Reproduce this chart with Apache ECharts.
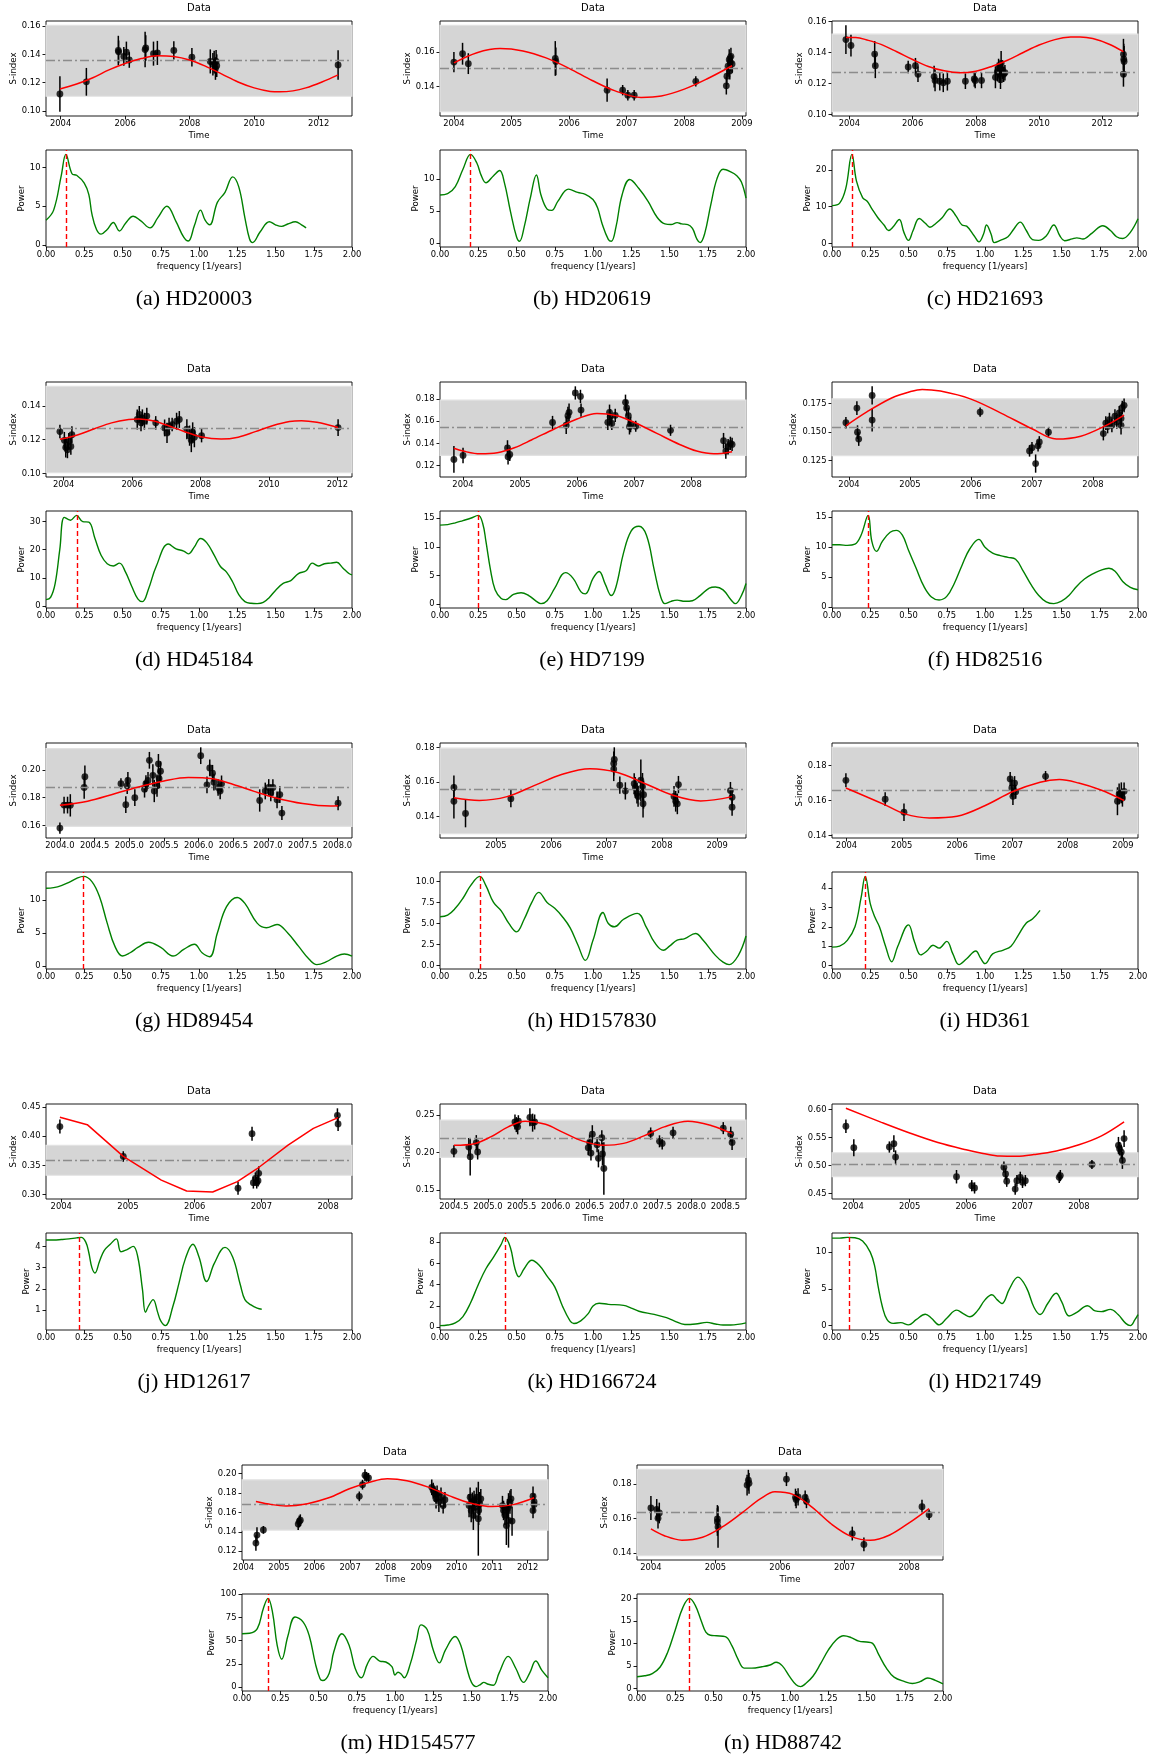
<!DOCTYPE html>
<html>
<head>
<meta charset="utf-8">
<script src="https://cdn.jsdelivr.net/npm/echarts@6/dist/echarts.min.js"></script>
<style>
  html, body { margin: 0; padding: 0; background: #fff; }
  #chart { width: 1157px; height: 1762px; }
</style>
</head>
<body>
<div id="chart"></div>
<script>
// ---------------------------------------------------------------------------
// Per-star data: observations [time, S-index, error], sinusoidal fit samples
// [time, S-index], activity band [low, high], mean level, periodogram
// [frequency, power], peak frequency and tick values for each axis.
// ---------------------------------------------------------------------------

// (a) HD20003
const a_obs = [[2003.98,0.1120,0.0125],[2004.80,0.1206,0.0098],[2005.79,0.1427,0.0104],[2005.80,0.1418,0.008],[2005.96,0.1385,0.0066],[2006.04,0.1415,0.0075],[2006.13,0.1360,0.0055],[2006.62,0.1434,0.0125],[2006.64,0.1445,0.009],[2006.88,0.1405,0.0085],[2007.00,0.1410,0.0085],[2007.51,0.1428,0.0065],[2008.07,0.1380,0.0065],[2008.64,0.1350,0.0085],[2008.72,0.1330,0.008],[2008.76,0.1345,0.008],[2008.80,0.1300,0.008],[2008.84,0.1320,0.008],[2008.82,0.1350,0.008],[2012.60,0.1325,0.0104]];
const a_fit = [[2003.98,0.1155],[2004.5,0.1190],[2005.0,0.1235],[2005.5,0.1290],[2006.0,0.1335],[2006.5,0.1370],[2007.0,0.1390],[2007.5,0.1385],[2008.0,0.1360],[2008.5,0.1315],[2009.0,0.1260],[2009.5,0.1205],[2010.0,0.1163],[2010.5,0.1138],[2010.8,0.1135],[2011.2,0.1142],[2011.6,0.1163],[2012.1,0.1205],[2012.6,0.1255]];
const a_band = [0.1104, 0.1605];
const a_mean = 0.1360;
const a_power = [[0,3.2],[0.05,4.5],[0.1,9.0],[0.13,11.7],[0.17,9.2],[0.2,9.0],[0.25,8.0],[0.28,6.5],[0.3,4.0],[0.33,2.0],[0.36,1.4],[0.4,2.0],[0.44,2.9],[0.48,1.8],[0.52,2.8],[0.57,3.7],[0.62,3.1],[0.68,2.2],[0.73,3.5],[0.79,5.0],[0.85,3.0],[0.9,1.0],[0.93,0.5],[0.97,2.5],[1.01,4.5],[1.04,3.2],[1.07,2.6],[1.12,5.5],[1.17,6.8],[1.22,8.8],[1.26,7.5],[1.3,3.5],[1.33,0.8],[1.35,0.3],[1.4,1.7],[1.46,3.0],[1.5,2.6],[1.54,2.4],[1.58,2.7],[1.63,3.0],[1.67,2.6],[1.7,2.2]];
const a_peak = 0.13;
const a_timeTicks = [2004, 2006, 2008, 2010, 2012];
const a_sTicks = [0.10, 0.12, 0.14, 0.16];
const a_powerTicks = [0, 5, 10];

// (b) HD20619
const b_obs = [[2004.00,0.1541,0.0058],[2004.15,0.1589,0.0063],[2004.25,0.1532,0.006],[2005.76,0.1562,0.010],[2005.77,0.1545,0.008],[2006.66,0.1379,0.0067],[2006.93,0.1379,0.003],[2007.02,0.1350,0.003],[2007.13,0.1350,0.003],[2008.20,0.1430,0.003],[2008.73,0.1404,0.005],[2008.74,0.1460,0.005],[2008.76,0.1517,0.006],[2008.78,0.1555,0.006],[2008.80,0.1540,0.005],[2008.81,0.1574,0.005],[2008.83,0.1530,0.005],[2008.79,0.1490,0.005]];
const b_fit = [[2004.0,0.1536],[2004.4,0.1595],[2004.8,0.1619],[2005.2,0.1605],[2005.6,0.1565],[2006.0,0.1505],[2006.4,0.1435],[2006.8,0.1375],[2007.25,0.1337],[2007.6,0.1345],[2008.0,0.1385],[2008.4,0.1445],[2008.83,0.1520]];
const b_band = [0.1255, 0.1753];
const b_mean = 0.1506;
const b_power = [[0,7.5],[0.05,7.7],[0.1,8.8],[0.15,11.5],[0.2,13.8],[0.24,12.5],[0.27,10.5],[0.3,9.4],[0.35,10.5],[0.39,11.3],[0.42,9.5],[0.46,5.0],[0.5,1.0],[0.52,0.3],[0.55,2.5],[0.59,7.0],[0.63,10.6],[0.66,7.5],[0.7,5.3],[0.73,5.1],[0.77,6.5],[0.84,8.4],[0.9,7.9],[0.95,7.6],[1.0,6.8],[1.03,5.5],[1.06,3.0],[1.1,0.6],[1.12,0.3],[1.15,2.5],[1.19,7.5],[1.24,9.9],[1.3,8.5],[1.36,6.5],[1.42,4.0],[1.47,3.0],[1.51,2.9],[1.55,3.2],[1.58,3.0],[1.62,2.9],[1.65,2.3],[1.68,0.6],[1.7,0.1],[1.73,1.5],[1.77,6.0],[1.81,10.0],[1.85,11.5],[1.9,11.1],[1.94,10.5],[1.97,9.5],[2.0,7.0]];
const b_peak = 0.20;
const b_timeTicks = [2004, 2005, 2006, 2007, 2008, 2009];
const b_sTicks = [0.14, 0.16];
const b_powerTicks = [0, 5, 10];

// (c) HD21693
const c_obs = [[2003.89,0.1483,0.0092],[2004.05,0.1445,0.007],[2004.80,0.1390,0.0084],[2004.82,0.1315,0.008],[2005.86,0.1307,0.004],[2006.09,0.1315,0.005],[2006.17,0.1260,0.005],[2006.68,0.1245,0.007],[2006.71,0.1220,0.007],[2006.86,0.1215,0.006],[2006.97,0.1205,0.006],[2007.10,0.1215,0.006],[2007.67,0.1215,0.005],[2007.95,0.1230,0.005],[2007.98,0.1220,0.005],[2008.18,0.1220,0.005],[2008.62,0.1240,0.007],[2008.68,0.1275,0.006],[2008.72,0.1300,0.006],[2008.76,0.1265,0.006],[2008.80,0.1330,0.008],[2008.84,0.1290,0.006],[2008.88,0.1260,0.005],[2008.92,0.1270,0.005],[2008.78,0.1225,0.006],[2012.67,0.1388,0.010],[2012.68,0.1357,0.010],[2012.69,0.1342,0.010],[2012.67,0.1260,0.008]];
const c_fit = [[2003.89,0.1497],[2004.2,0.1497],[2004.6,0.1478],[2005.0,0.1452],[2005.5,0.1405],[2006.0,0.1355],[2006.5,0.1310],[2007.0,0.1282],[2007.5,0.1270],[2008.0,0.1280],[2008.5,0.1310],[2009.0,0.1350],[2009.5,0.1400],[2010.0,0.1448],[2010.5,0.1483],[2011.0,0.1499],[2011.3,0.1500],[2011.7,0.1490],[2012.2,0.1455],[2012.67,0.1405]];
const c_band = [0.1019, 0.1518];
const c_mean = 0.1275;
const c_power = [[0,10.3],[0.05,11.0],[0.09,15.0],[0.13,24.3],[0.16,17.0],[0.2,12.5],[0.23,11.5],[0.26,9.5],[0.3,7.0],[0.34,5.0],[0.37,3.5],[0.4,4.5],[0.44,6.5],[0.47,3.0],[0.5,0.8],[0.53,3.5],[0.57,6.8],[0.61,5.5],[0.64,4.4],[0.68,5.5],[0.72,7.0],[0.77,9.4],[0.81,7.5],[0.85,5.0],[0.88,4.7],[0.93,2.0],[0.96,0.4],[0.99,2.5],[1.01,5.0],[1.04,2.5],[1.06,0.2],[1.1,0.8],[1.15,1.8],[1.19,4.0],[1.23,5.8],[1.27,3.5],[1.31,1.0],[1.35,0.8],[1.4,2.0],[1.45,5.0],[1.49,2.0],[1.52,0.7],[1.57,1.2],[1.6,1.5],[1.64,1.2],[1.7,2.8],[1.77,4.8],[1.82,3.5],[1.86,1.8],[1.9,1.3],[1.95,3.0],[2.0,6.7]];
const c_peak = 0.135;
const c_timeTicks = [2004, 2006, 2008, 2010, 2012];
const c_sTicks = [0.10, 0.12, 0.14, 0.16];
const c_powerTicks = [0, 10, 20];

// (d) HD45184
const d_obs = [[2003.89,0.1248,0.004],[2004.02,0.1196,0.005],[2004.06,0.1154,0.006],[2004.15,0.1190,0.005],[2004.21,0.1160,0.005],[2004.11,0.1140,0.005],[2004.24,0.1230,0.005],[2006.15,0.1320,0.006],[2006.21,0.1350,0.005],[2006.30,0.1330,0.005],[2006.36,0.1310,0.005],[2006.43,0.1340,0.005],[2006.26,0.1300,0.005],[2006.69,0.1300,0.004],[2006.95,0.1270,0.005],[2007.02,0.1240,0.006],[2007.08,0.1280,0.005],[2007.17,0.1290,0.004],[2007.30,0.1310,0.005],[2007.38,0.1320,0.005],[2007.60,0.1262,0.006],[2007.68,0.1224,0.006],[2007.73,0.1196,0.007],[2007.77,0.1243,0.006],[2007.82,0.1215,0.006],[2008.03,0.1224,0.004],[2012.02,0.1272,0.005]];
const d_fit = [[2003.89,0.1202],[2004.4,0.1228],[2004.9,0.1265],[2005.4,0.1300],[2005.9,0.1320],[2006.2,0.1323],[2006.6,0.1312],[2007.0,0.1287],[2007.5,0.1250],[2008.0,0.1218],[2008.6,0.1204],[2009.1,0.1215],[2009.6,0.1248],[2010.1,0.1283],[2010.6,0.1308],[2010.95,0.1313],[2011.4,0.1303],[2012.02,0.1272]];
const d_band = [0.1004, 0.1517];
const d_mean = 0.1266;
const d_power = [[0,2.2],[0.03,3.0],[0.06,8.0],[0.09,20.0],[0.12,31.5],[0.16,30.5],[0.2,32.2],[0.24,30.0],[0.28,29.8],[0.32,24.0],[0.36,18.0],[0.4,15.0],[0.44,14.2],[0.48,15.2],[0.52,12.0],[0.56,7.0],[0.6,2.5],[0.63,1.5],[0.67,6.0],[0.72,14.0],[0.8,22.0],[0.85,20.3],[0.9,19.5],[0.93,18.5],[0.97,21.0],[1.01,24.0],[1.05,22.5],[1.1,18.0],[1.14,14.0],[1.18,12.0],[1.22,8.5],[1.26,4.0],[1.3,1.5],[1.34,0.9],[1.38,0.8],[1.42,1.2],[1.46,3.0],[1.5,5.5],[1.55,8.0],[1.6,9.0],[1.65,11.5],[1.7,12.5],[1.74,15.2],[1.78,14.2],[1.82,15.0],[1.86,15.2],[1.9,15.5],[1.94,13.5],[1.98,11.5],[2.0,11.0]];
const d_peak = 0.207;
const d_timeTicks = [2004, 2006, 2008, 2010, 2012];
const d_sTicks = [0.10, 0.12, 0.14];
const d_powerTicks = [0, 10, 20, 30];

// (e) HD7199
const e_obs = [[2003.84,0.1255,0.012],[2004.00,0.1291,0.007],[2004.78,0.1358,0.007],[2004.79,0.1280,0.007],[2004.82,0.1300,0.006],[2005.57,0.1588,0.006],[2005.81,0.1564,0.008],[2005.84,0.1650,0.008],[2005.86,0.1680,0.008],[2005.97,0.1855,0.006],[2006.06,0.1824,0.006],[2006.07,0.1700,0.006],[2006.54,0.1590,0.007],[2006.57,0.1680,0.007],[2006.58,0.1640,0.007],[2006.61,0.1580,0.006],[2006.67,0.1653,0.006],[2006.85,0.1770,0.007],[2006.87,0.1720,0.007],[2006.90,0.1650,0.007],[2006.92,0.1550,0.007],[2006.94,0.1570,0.007],[2007.03,0.1555,0.005],[2007.64,0.1518,0.005],[2008.57,0.1424,0.007],[2008.61,0.1330,0.007],[2008.65,0.1370,0.007],[2008.69,0.1400,0.006],[2008.72,0.1390,0.006]];
const e_fit = [[2003.84,0.1355],[2004.0,0.1330],[2004.3,0.1305],[2004.6,0.1315],[2004.9,0.1360],[2005.2,0.1430],[2005.6,0.1530],[2006.0,0.1620],[2006.35,0.1670],[2006.7,0.1650],[2007.0,0.1590],[2007.4,0.1490],[2007.8,0.1390],[2008.1,0.1330],[2008.4,0.1305],[2008.72,0.1325]];
const e_band = [0.1291, 0.1791];
const e_mean = 0.1545;
const e_power = [[0,13.8],[0.05,13.9],[0.1,14.2],[0.15,14.6],[0.2,15.0],[0.25,15.5],[0.28,14.0],[0.3,11.0],[0.33,6.0],[0.36,2.5],[0.4,1.0],[0.43,0.8],[0.48,1.7],[0.53,2.0],[0.58,1.5],[0.63,0.5],[0.66,0.1],[0.7,0.6],[0.75,2.8],[0.82,5.5],[0.87,4.5],[0.92,2.2],[0.95,1.8],[1.0,4.5],[1.04,5.7],[1.08,3.5],[1.12,1.5],[1.15,3.0],[1.2,9.0],[1.25,12.8],[1.3,13.6],[1.35,12.0],[1.4,6.0],[1.44,1.5],[1.47,0.1],[1.51,0.5],[1.55,0.7],[1.6,0.5],[1.65,0.6],[1.7,1.5],[1.76,2.8],[1.8,3.0],[1.85,2.5],[1.9,0.8],[1.93,0.1],[1.97,1.5],[2.0,3.6]];
const e_peak = 0.25;
const e_timeTicks = [2004, 2005, 2006, 2007, 2008];
const e_sTicks = [0.12, 0.14, 0.16, 0.18];
const e_powerTicks = [0, 5, 10, 15];

// (f) HD82516
const f_obs = [[2003.95,0.1583,0.005],[2004.13,0.1711,0.006],[2004.14,0.1500,0.006],[2004.16,0.1440,0.006],[2004.38,0.1822,0.008],[2004.38,0.1606,0.010],[2006.15,0.1676,0.004],[2006.96,0.1336,0.005],[2007.00,0.1364,0.005],[2007.06,0.1225,0.008],[2007.10,0.1380,0.005],[2007.12,0.1415,0.005],[2007.27,0.1500,0.004],[2008.17,0.1488,0.006],[2008.21,0.1580,0.006],[2008.24,0.1550,0.006],[2008.27,0.1610,0.006],[2008.31,0.1560,0.006],[2008.36,0.1640,0.006],[2008.39,0.1590,0.006],[2008.43,0.1670,0.006],[2008.46,0.1620,0.006],[2008.48,0.1715,0.006],[2008.51,0.1735,0.006],[2008.46,0.1560,0.008]];
const f_fit = [[2003.95,0.1556],[2004.3,0.1680],[2004.7,0.1800],[2005.0,0.1855],[2005.2,0.1875],[2005.5,0.1860],[2006.0,0.1790],[2006.5,0.1665],[2007.0,0.1530],[2007.4,0.1440],[2007.8,0.1465],[2008.2,0.1555],[2008.51,0.1650]];
const f_band = [0.1295, 0.1792];
const f_mean = 0.1545;
const f_power = [[0,10.4],[0.05,10.4],[0.1,10.3],[0.15,10.5],[0.19,12.0],[0.236,15.3],[0.26,11.0],[0.29,9.3],[0.33,11.0],[0.38,12.5],[0.42,12.8],[0.46,12.0],[0.5,9.5],[0.55,6.5],[0.6,3.5],[0.65,1.7],[0.7,1.2],[0.75,1.8],[0.8,4.0],[0.85,7.0],[0.9,9.7],[0.96,11.3],[1.0,10.0],[1.05,9.0],[1.1,8.6],[1.15,8.3],[1.2,8.0],[1.25,6.0],[1.3,3.8],[1.35,2.0],[1.4,0.9],[1.45,0.6],[1.5,1.0],[1.55,2.0],[1.6,3.5],[1.65,4.7],[1.7,5.5],[1.75,6.1],[1.81,6.5],[1.85,6.0],[1.9,4.3],[1.95,3.3],[2.0,2.9]];
const f_peak = 0.236;
const f_timeTicks = [2004, 2005, 2006, 2007, 2008];
const f_sTicks = [0.125, 0.150, 0.175, 0.200];
const f_powerTicks = [0, 5, 10, 15];

// (g) HD89454
const g_obs = [[2004.00,0.1582,0.004],[2004.06,0.1747,0.006],[2004.11,0.1747,0.006],[2004.15,0.1745,0.008],[2004.35,0.1873,0.008],[2004.36,0.1950,0.008],[2004.88,0.1900,0.004],[2004.95,0.1750,0.006],[2004.97,0.1886,0.006],[2004.98,0.1924,0.006],[2005.08,0.1800,0.006],[2005.22,0.1861,0.006],[2005.24,0.1900,0.006],[2005.27,0.1924,0.006],[2005.29,0.2068,0.006],[2005.34,0.1960,0.008],[2005.36,0.1848,0.008],[2005.40,0.1886,0.008],[2005.42,0.2043,0.007],[2005.43,0.1937,0.007],[2005.45,0.1990,0.007],[2006.03,0.2101,0.006],[2006.12,0.1892,0.006],[2006.16,0.2013,0.006],[2006.20,0.1975,0.006],[2006.22,0.1911,0.006],[2006.28,0.1873,0.006],[2006.31,0.1848,0.006],[2006.33,0.1899,0.006],[2006.88,0.1780,0.008],[2006.96,0.1848,0.006],[2007.01,0.1873,0.006],[2007.04,0.1835,0.006],[2007.07,0.1873,0.006],[2007.13,0.1785,0.006],[2007.17,0.1822,0.006],[2007.20,0.1690,0.005],[2008.01,0.1760,0.005]];
const g_fit = [[2004.0,0.1745],[2004.4,0.1775],[2004.8,0.1830],[2005.2,0.1885],[2005.5,0.1920],[2005.85,0.1944],[2006.2,0.1935],[2006.5,0.1895],[2006.8,0.1845],[2007.1,0.1800],[2007.5,0.1758],[2007.9,0.1740],[2008.01,0.1742]];
const g_band = [0.1595, 0.2152];
const g_mean = 0.1876;
const g_power = [[0,11.8],[0.05,11.9],[0.1,12.2],[0.15,12.7],[0.2,13.3],[0.246,13.6],[0.3,12.8],[0.35,10.5],[0.4,6.5],[0.45,3.0],[0.5,1.5],[0.55,2.0],[0.6,2.8],[0.67,3.6],[0.75,2.8],[0.83,1.5],[0.9,2.5],[0.97,3.3],[1.02,2.0],[1.07,1.4],[1.12,5.0],[1.18,9.0],[1.25,10.4],[1.3,9.5],[1.38,6.5],[1.44,5.8],[1.51,6.3],[1.58,5.0],[1.65,3.0],[1.72,1.0],[1.77,0.2],[1.83,0.6],[1.9,1.5],[1.95,1.8],[2.0,1.5]];
const g_peak = 0.246;
const g_timeTicks = [2004.0, 2004.5, 2005.0, 2005.5, 2006.0, 2006.5, 2007.0, 2007.5, 2008.0];
const g_sTicks = [0.16, 0.18, 0.20];
const g_powerTicks = [0, 5, 10];

// (h) HD157830
const h_obs = [[2004.24,0.1568,0.007],[2004.24,0.1488,0.010],[2004.45,0.1417,0.008],[2005.27,0.1503,0.005],[2007.13,0.1707,0.007],[2007.14,0.1731,0.007],[2007.13,0.1675,0.007],[2007.24,0.1581,0.005],[2007.34,0.1548,0.005],[2007.50,0.1590,0.006],[2007.52,0.1568,0.006],[2007.55,0.1535,0.006],[2007.57,0.1516,0.006],[2007.62,0.1610,0.012],[2007.65,0.1572,0.008],[2007.67,0.1526,0.008],[2007.66,0.1474,0.008],[2008.22,0.1516,0.006],[2008.25,0.1488,0.006],[2008.28,0.1473,0.006],[2008.30,0.1585,0.005],[2009.24,0.1550,0.005],[2009.27,0.1512,0.005],[2009.27,0.1454,0.005]];
const h_fit = [[2004.24,0.1508],[2004.7,0.1493],[2005.2,0.1515],[2005.7,0.1580],[2006.2,0.1645],[2006.7,0.1677],[2007.2,0.1655],[2007.7,0.1590],[2008.2,0.1523],[2008.7,0.1490],[2009.27,0.1515]];
const h_band = [0.1300, 0.1796];
const h_mean = 0.1557;
const h_power = [[0,5.8],[0.05,6.0],[0.1,6.8],[0.15,8.0],[0.2,9.5],[0.26,10.6],[0.3,9.5],[0.35,7.5],[0.4,6.5],[0.45,5.0],[0.5,4.0],[0.55,5.5],[0.6,7.5],[0.645,8.7],[0.7,7.5],[0.75,6.8],[0.8,5.8],[0.85,4.5],[0.9,2.5],[0.95,0.6],[1.0,3.0],[1.065,6.3],[1.1,5.0],[1.14,4.6],[1.2,5.5],[1.29,6.2],[1.35,4.5],[1.4,2.8],[1.46,1.8],[1.5,2.3],[1.55,3.0],[1.6,3.2],[1.67,3.8],[1.72,3.0],[1.8,1.2],[1.85,0.4],[1.89,0.1],[1.95,1.2],[2.0,3.5]];
const h_peak = 0.26;
const h_timeTicks = [2005, 2006, 2007, 2008, 2009];
const h_sTicks = [0.14, 0.16, 0.18];
const h_powerTicks = [0, 2.5, 5, 7.5, 10];

// (i) HD361
const i_obs = [[2003.99,0.1716,0.004],[2004.70,0.1608,0.004],[2005.04,0.1533,0.005],[2006.96,0.1724,0.004],[2006.99,0.1672,0.005],[2007.01,0.1624,0.005],[2007.04,0.1700,0.004],[2007.06,0.1650,0.004],[2007.60,0.1739,0.003],[2008.90,0.1596,0.008],[2008.93,0.1638,0.006],[2008.97,0.1644,0.006],[2008.99,0.1615,0.005],[2009.02,0.1653,0.005]];
const i_fit = [[2003.99,0.1672],[2004.7,0.1575],[2005.04,0.1525],[2005.5,0.1500],[2006.0,0.1510],[2006.5,0.1570],[2007.0,0.1650],[2007.5,0.1705],[2007.85,0.1720],[2008.2,0.1700],[2008.6,0.1660],[2009.02,0.1600]];
const i_band = [0.1410, 0.1905];
const i_mean = 0.1657;
const i_power = [[0,0.95],[0.05,1.0],[0.1,1.3],[0.15,2.0],[0.19,3.5],[0.217,4.6],[0.25,3.2],[0.28,2.5],[0.31,2.0],[0.35,1.0],[0.39,0.2],[0.43,1.0],[0.5,2.1],[0.54,1.2],[0.58,0.55],[0.62,0.75],[0.66,1.05],[0.7,0.9],[0.75,1.25],[0.79,0.6],[0.83,0.05],[0.88,0.35],[0.94,0.75],[0.97,0.4],[1.0,0.1],[1.05,0.6],[1.12,0.8],[1.17,1.0],[1.22,1.6],[1.27,2.2],[1.31,2.4],[1.36,2.85]];
const i_peak = 0.217;
const i_timeTicks = [2004, 2005, 2006, 2007, 2008, 2009];
const i_sTicks = [0.14, 0.16, 0.18];
const i_powerTicks = [0, 1, 2, 3, 4];

// (j) HD12617
const j_obs = [[2003.98,0.4167,0.012],[2004.93,0.3654,0.009],[2006.65,0.3110,0.011],[2006.86,0.4045,0.012],[2006.88,0.3205,0.010],[2006.91,0.3280,0.010],[2006.93,0.3205,0.010],[2006.96,0.3365,0.012],[2006.95,0.3240,0.010],[2008.14,0.4359,0.012],[2008.15,0.4212,0.012]];
const j_fit = [[2003.98,0.4327],[2004.39,0.4199],[2004.93,0.3655],[2005.50,0.3250],[2005.88,0.3064],[2006.27,0.3045],[2006.64,0.3224],[2006.93,0.3440],[2007.40,0.3850],[2007.78,0.4135],[2008.15,0.4320]];
const j_band = [0.3333, 0.3846];
const j_mean = 0.3590;
const j_power = [[0,4.3],[0.05,4.3],[0.1,4.32],[0.15,4.35],[0.2,4.4],[0.23,4.42],[0.26,4.2],[0.28,3.7],[0.3,3.0],[0.32,2.75],[0.35,3.3],[0.38,3.8],[0.42,4.1],[0.46,4.35],[0.49,3.75],[0.53,3.85],[0.57,4.0],[0.6,3.5],[0.63,2.0],[0.65,0.9],[0.67,1.2],[0.7,1.5],[0.73,0.9],[0.75,0.5],[0.78,0.28],[0.83,1.2],[0.87,2.3],[0.91,3.4],[0.96,4.1],[1.0,3.5],[1.05,2.35],[1.1,3.2],[1.17,3.95],[1.22,3.5],[1.27,2.2],[1.3,1.5],[1.34,1.25],[1.38,1.1],[1.41,1.05]];
const j_peak = 0.22;
const j_timeTicks = [2004, 2005, 2006, 2007, 2008];
const j_sTicks = [0.30, 0.35, 0.40, 0.45];
const j_powerTicks = [1, 2, 3, 4];

// (k) HD166724
const k_obs = [[2004.50,0.2014,0.008],[2004.72,0.2070,0.012],[2004.74,0.1943,0.025],[2004.83,0.2130,0.010],[2004.85,0.2005,0.010],[2005.40,0.2405,0.010],[2005.42,0.2370,0.010],[2005.44,0.2340,0.010],[2005.45,0.2415,0.008],[2005.62,0.2467,0.012],[2005.66,0.2396,0.012],[2005.69,0.2405,0.010],[2006.48,0.2062,0.010],[2006.50,0.2133,0.010],[2006.52,0.1991,0.010],[2006.54,0.2242,0.012],[2006.61,0.2100,0.010],[2006.63,0.1920,0.012],[2006.68,0.2195,0.010],[2006.69,0.1978,0.015],[2006.71,0.1786,0.035],[2007.40,0.2252,0.008],[2007.53,0.2147,0.008],[2007.57,0.2119,0.008],[2007.73,0.2261,0.008],[2008.47,0.2323,0.008],[2008.58,0.2242,0.010],[2008.60,0.2133,0.010]];
const k_fit = [[2004.50,0.2095],[2004.8,0.2115],[2005.05,0.2210],[2005.3,0.2340],[2005.55,0.2415],[2005.85,0.2375],[2006.1,0.2270],[2006.4,0.2150],[2006.7,0.2095],[2007.0,0.2120],[2007.3,0.2220],[2007.6,0.2340],[2007.95,0.2415],[2008.3,0.2355],[2008.6,0.2250]];
const k_band = [0.1934, 0.2429];
const k_mean = 0.2194;
const k_power = [[0,0.15],[0.05,0.2],[0.1,0.4],[0.15,1.0],[0.2,2.3],[0.25,4.0],[0.3,5.5],[0.35,6.6],[0.4,7.8],[0.424,8.45],[0.46,7.5],[0.49,5.5],[0.515,4.75],[0.55,5.5],[0.6,6.3],[0.65,5.8],[0.7,4.8],[0.75,3.8],[0.8,2.0],[0.85,0.6],[0.875,0.35],[0.92,0.6],[0.97,1.3],[1.0,2.0],[1.04,2.25],[1.1,2.15],[1.2,2.05],[1.25,1.8],[1.3,1.5],[1.4,1.2],[1.48,0.9],[1.53,0.6],[1.6,0.25],[1.67,0.3],[1.745,0.45],[1.8,0.3],[1.85,0.2],[1.9,0.2],[2.0,0.4]];
const k_peak = 0.424;
const k_timeTicks = [2004.5, 2005.0, 2005.5, 2006.0, 2006.5, 2007.0, 2007.5, 2008.0, 2008.5];
const k_sTicks = [0.15, 0.20, 0.25];
const k_powerTicks = [0, 2, 4, 6, 8];

// (l) HD21749
const l_obs = [[2003.87,0.5700,0.012],[2004.01,0.5317,0.015],[2004.64,0.5330,0.010],[2004.72,0.5390,0.015],[2004.75,0.5150,0.012],[2005.83,0.4800,0.012],[2006.10,0.4640,0.010],[2006.15,0.4600,0.010],[2006.67,0.4970,0.010],[2006.70,0.4850,0.010],[2006.72,0.4720,0.010],[2006.87,0.4580,0.010],[2006.90,0.4730,0.010],[2006.96,0.4790,0.010],[2007.00,0.4700,0.010],[2007.05,0.4730,0.010],[2007.65,0.4790,0.010],[2007.67,0.4820,0.010],[2008.23,0.5020,0.008],[2008.70,0.5360,0.015],[2008.72,0.5300,0.012],[2008.75,0.5240,0.012],[2008.77,0.5090,0.015],[2008.80,0.5480,0.015]];
const l_fit = [[2003.87,0.6020],[2004.5,0.5770],[2005.0,0.5580],[2005.5,0.5410],[2006.0,0.5280],[2006.3,0.5215],[2006.6,0.5168],[2006.9,0.5165],[2007.2,0.5195],[2007.6,0.5260],[2008.0,0.5370],[2008.4,0.5530],[2008.80,0.5780]];
const l_band = [0.4802, 0.5228];
const l_mean = 0.5030;
const l_power = [[0,11.9],[0.05,11.9],[0.1,12.0],[0.15,11.95],[0.2,11.5],[0.25,10.0],[0.28,8.0],[0.3,5.5],[0.33,2.5],[0.36,0.8],[0.4,0.3],[0.45,0.4],[0.5,0.1],[0.55,0.8],[0.61,1.55],[0.65,1.0],[0.7,0.1],[0.75,1.0],[0.815,2.1],[0.86,1.6],[0.9,1.2],[0.95,2.0],[1.0,3.5],[1.045,4.2],[1.08,3.5],[1.11,3.0],[1.16,5.0],[1.215,6.6],[1.27,5.2],[1.32,2.5],[1.36,1.5],[1.41,3.0],[1.465,4.4],[1.5,3.3],[1.55,1.3],[1.6,1.8],[1.67,2.7],[1.72,2.0],[1.76,1.9],[1.82,2.2],[1.87,1.5],[1.92,0.3],[1.95,0.0],[1.98,0.8],[2.0,1.5]];
const l_peak = 0.11;
const l_timeTicks = [2004, 2005, 2006, 2007, 2008];
const l_sTicks = [0.45, 0.50, 0.55, 0.60];
const l_powerTicks = [0, 5, 10];

// (m) HD154577
const m_obs = [[2004.35,0.1285,0.008],[2004.38,0.1367,0.008],[2004.56,0.1420,0.004],[2005.54,0.1480,0.006],[2005.57,0.1507,0.006],[2005.60,0.1520,0.006],[2007.26,0.1765,0.005],[2007.35,0.1885,0.005],[2007.42,0.1983,0.006],[2007.46,0.1966,0.005],[2007.52,0.1956,0.005],[2009.30,0.1858,0.008],[2009.34,0.1824,0.008],[2009.39,0.1790,0.008],[2009.42,0.1740,0.010],[2009.45,0.1797,0.008],[2009.50,0.1705,0.010],[2009.56,0.1756,0.010],[2009.62,0.1670,0.008],[2009.67,0.1730,0.008],[2010.35,0.1670,0.012],[2010.38,0.1756,0.010],[2010.41,0.1620,0.012],[2010.44,0.1705,0.010],[2010.47,0.1570,0.015],[2010.49,0.1722,0.010],[2010.52,0.1654,0.012],[2010.56,0.1756,0.010],[2010.61,0.1535,0.038],[2010.62,0.1620,0.015],[2010.65,0.1690,0.012],[2010.68,0.1740,0.010],[2011.29,0.1670,0.010],[2011.32,0.1620,0.010],[2011.36,0.1570,0.010],[2011.40,0.1465,0.020],[2011.43,0.1637,0.010],[2011.46,0.1518,0.028],[2011.50,0.1705,0.012],[2011.53,0.1740,0.010],[2011.56,0.1511,0.015],[2012.15,0.1767,0.010],[2012.18,0.1710,0.008],[2012.15,0.1620,0.008],[2012.18,0.1680,0.008]];
const m_fit = [[2004.35,0.1712],[2004.8,0.1680],[2005.2,0.1667],[2005.8,0.1690],[2006.4,0.1750],[2007.0,0.1845],[2007.6,0.1915],[2008.05,0.1945],[2008.6,0.1925],[2009.2,0.1860],[2009.8,0.1770],[2010.4,0.1695],[2011.0,0.1660],[2011.6,0.1680],[2012.18,0.1750]];
const m_band = [0.1418, 0.1935];
const m_mean = 0.1680;
const m_power = [[0,57.5],[0.05,58.0],[0.1,63.0],[0.14,85.0],[0.17,95.5],[0.2,80.0],[0.23,45.0],[0.26,30.0],[0.3,55.0],[0.347,75.5],[0.4,70.0],[0.44,55.0],[0.48,25.0],[0.51,9.0],[0.527,7.0],[0.57,15.0],[0.6,38.0],[0.653,57.5],[0.7,45.0],[0.74,20.0],[0.78,10.0],[0.82,25.0],[0.857,33.0],[0.9,28.0],[0.94,27.0],[0.98,22.0],[1.0,13.0],[1.02,16.0],[1.04,14.0],[1.06,10.0],[1.1,25.0],[1.14,50.0],[1.17,67.0],[1.21,62.0],[1.25,40.0],[1.29,26.0],[1.33,40.0],[1.393,54.5],[1.43,45.0],[1.47,20.0],[1.5,5.0],[1.53,0.5],[1.56,3.0],[1.58,5.0],[1.61,3.0],[1.643,2.0],[1.68,15.0],[1.74,33.0],[1.79,20.0],[1.84,5.0],[1.88,15.0],[1.92,28.0],[1.96,18.0],[2.0,10.0]];
const m_peak = 0.17;
const m_timeTicks = [2004, 2005, 2006, 2007, 2008, 2009, 2010, 2011, 2012];
const m_sTicks = [0.12, 0.14, 0.16, 0.18, 0.20];
const m_powerTicks = [0, 25, 50, 75, 100];

// (n) HD88742
const n_obs = [[2004.00,0.1661,0.007],[2004.09,0.1653,0.006],[2004.11,0.1602,0.006],[2004.13,0.1632,0.006],[2005.03,0.1598,0.008],[2005.03,0.1580,0.008],[2005.04,0.1551,0.012],[2005.49,0.1794,0.006],[2005.51,0.1822,0.006],[2005.52,0.1804,0.006],[2006.10,0.1828,0.004],[2006.24,0.1723,0.005],[2006.25,0.1710,0.005],[2006.28,0.1725,0.005],[2006.39,0.1723,0.004],[2006.41,0.1700,0.004],[2007.12,0.1513,0.004],[2007.30,0.1450,0.004],[2008.20,0.1669,0.004],[2008.31,0.1622,0.003]];
const n_fit = [[2004.00,0.1540],[2004.2,0.1502],[2004.48,0.1475],[2004.8,0.1492],[2005.1,0.1550],[2005.4,0.1630],[2005.7,0.1715],[2005.92,0.1755],[2006.2,0.1740],[2006.5,0.1665],[2006.8,0.1567],[2007.1,0.1497],[2007.4,0.1474],[2007.7,0.1505],[2008.0,0.1575],[2008.31,0.1658]];
const n_band = [0.1385, 0.1885];
const n_mean = 0.1638;
const n_power = [[0,2.6],[0.05,2.8],[0.1,3.3],[0.15,4.7],[0.2,8.0],[0.25,13.0],[0.3,18.0],[0.343,20.0],[0.38,18.5],[0.42,15.0],[0.45,12.5],[0.48,11.8],[0.52,11.7],[0.577,11.5],[0.62,9.5],[0.66,6.5],[0.7,4.5],[0.75,4.5],[0.817,4.8],[0.87,5.2],[0.91,5.8],[0.95,5.0],[1.0,2.5],[1.04,0.8],[1.07,0.4],[1.1,1.0],[1.15,2.7],[1.2,5.5],[1.25,8.5],[1.3,10.7],[1.35,11.7],[1.4,11.3],[1.45,10.5],[1.5,10.3],[1.54,10.0],[1.58,7.5],[1.63,4.5],[1.68,2.5],[1.75,1.5],[1.8,1.1],[1.85,1.5],[1.9,2.3],[1.95,1.8],[2.0,1.0]];
const n_peak = 0.343;
const n_timeTicks = [2004, 2005, 2006, 2007, 2008];
const n_sTicks = [0.14, 0.16, 0.18];
const n_powerTicks = [0, 5, 10, 15, 20];

// Frequency ticks shared by every periodogram
const freqTicks = [0, 0.25, 0.5, 0.75, 1.0, 1.25, 1.5, 1.75, 2.0];

// ---------------------------------------------------------------------------
// Panel table assembled from the arrays above
// ---------------------------------------------------------------------------
const PANELS = [
  { tag: 'a', star: 'HD20003',  obs: a_obs, fit: a_fit, band: a_band, mean: a_mean, power: a_power, peak: a_peak, tt: a_timeTicks, st: a_sTicks, pt: a_powerTicks },
  { tag: 'b', star: 'HD20619',  obs: b_obs, fit: b_fit, band: b_band, mean: b_mean, power: b_power, peak: b_peak, tt: b_timeTicks, st: b_sTicks, pt: b_powerTicks },
  { tag: 'c', star: 'HD21693',  obs: c_obs, fit: c_fit, band: c_band, mean: c_mean, power: c_power, peak: c_peak, tt: c_timeTicks, st: c_sTicks, pt: c_powerTicks },
  { tag: 'd', star: 'HD45184',  obs: d_obs, fit: d_fit, band: d_band, mean: d_mean, power: d_power, peak: d_peak, tt: d_timeTicks, st: d_sTicks, pt: d_powerTicks },
  { tag: 'e', star: 'HD7199',   obs: e_obs, fit: e_fit, band: e_band, mean: e_mean, power: e_power, peak: e_peak, tt: e_timeTicks, st: e_sTicks, pt: e_powerTicks },
  { tag: 'f', star: 'HD82516',  obs: f_obs, fit: f_fit, band: f_band, mean: f_mean, power: f_power, peak: f_peak, tt: f_timeTicks, st: f_sTicks, pt: f_powerTicks },
  { tag: 'g', star: 'HD89454',  obs: g_obs, fit: g_fit, band: g_band, mean: g_mean, power: g_power, peak: g_peak, tt: g_timeTicks, st: g_sTicks, pt: g_powerTicks },
  { tag: 'h', star: 'HD157830', obs: h_obs, fit: h_fit, band: h_band, mean: h_mean, power: h_power, peak: h_peak, tt: h_timeTicks, st: h_sTicks, pt: h_powerTicks },
  { tag: 'i', star: 'HD361',    obs: i_obs, fit: i_fit, band: i_band, mean: i_mean, power: i_power, peak: i_peak, tt: i_timeTicks, st: i_sTicks, pt: i_powerTicks },
  { tag: 'j', star: 'HD12617',  obs: j_obs, fit: j_fit, band: j_band, mean: j_mean, power: j_power, peak: j_peak, tt: j_timeTicks, st: j_sTicks, pt: j_powerTicks, polyline: true },
  { tag: 'k', star: 'HD166724', obs: k_obs, fit: k_fit, band: k_band, mean: k_mean, power: k_power, peak: k_peak, tt: k_timeTicks, st: k_sTicks, pt: k_powerTicks },
  { tag: 'l', star: 'HD21749',  obs: l_obs, fit: l_fit, band: l_band, mean: l_mean, power: l_power, peak: l_peak, tt: l_timeTicks, st: l_sTicks, pt: l_powerTicks },
  { tag: 'm', star: 'HD154577', obs: m_obs, fit: m_fit, band: m_band, mean: m_mean, power: m_power, peak: m_peak, tt: m_timeTicks, st: m_sTicks, pt: m_powerTicks },
  { tag: 'n', star: 'HD88742',  obs: n_obs, fit: n_fit, band: n_band, mean: n_mean, power: n_power, peak: n_peak, tt: n_timeTicks, st: n_sTicks, pt: n_powerTicks }
];

// ---------------------------------------------------------------------------
// Page layout (pixels)
// ---------------------------------------------------------------------------
const ROW_Y = [0, 361, 722, 1083, 1444];
const COL_X = [46, 440, 832];
const COL_X_LAST = [242, 637];
const CAPTION_X = [194, 592, 985];
const CAPTION_X_LAST = [408, 783];
const PANEL_W = 306;
const DATA_TOP = 21, DATA_H = 95;
const POW_TOP = 150, POW_H = 97;

const SANS = 'DejaVu Sans';
const TICK_FS = 8.4;
const NAME_FS = 8.6;
const TITLE_FS = 10;

// Number of decimals needed to print every value of a tick list
function decimalsOf(list) {
  let d = 0;
  list.forEach(v => {
    const s = String(+v.toFixed(6));
    const p = s.indexOf('.');
    if (p >= 0) d = Math.max(d, s.length - p - 1);
  });
  return d;
}
// Approximate pixel width of a numeric label in DejaVu Sans
function labelWidth(str, fs) {
  let w = 0;
  for (const ch of str) w += (ch === '.' ? 0.318 : ch === '-' ? 0.838 : 0.636);
  return w * fs;
}
// Matplotlib-style autoscale: data extent padded by 5% on each side
function padded(lo, hi) {
  const m = (hi - lo) * 0.05;
  return [lo - m, hi + m];
}

const grids = [], xAxes = [], yAxes = [], series = [], titles = [];

function valueAxis(gridIndex, range, ticks, name, nameGap, isY) {
  const dec = decimalsOf(ticks);
  const ax = {
    type: 'value',
    gridIndex,
    min: range[0],
    max: range[1],
    scale: true,
    splitLine: { show: false },
    axisLine: { show: false, onZero: false },
    axisTick: { show: true, inside: false, length: 3.5, customValues: ticks, lineStyle: { color: '#000', width: 0.9 } },
    axisLabel: {
      customValues: ticks,
      formatter: v => Number(v).toFixed(dec),
      margin: isY ? 5.5 : 4,
      fontSize: TICK_FS,
      fontFamily: SANS,
      color: '#000'
    },
    name,
    nameLocation: 'middle',
    nameGap,
    nameTextStyle: { fontSize: NAME_FS, fontFamily: SANS, color: '#000' }
  };
  if (isY) ax.nameRotate = 90;
  return ax;
}

PANELS.forEach((p, i) => {
  const row = Math.floor(i / 3);
  const col = i % 3;
  const left = row === 4 ? COL_X_LAST[col] : COL_X[col];
  const rowY = ROW_Y[row];
  const capX = row === 4 ? CAPTION_X_LAST[col] : CAPTION_X[col];

  // ---- time-series grid ----
  const gData = grids.length;
  grids.push({ left, top: rowY + DATA_TOP, width: PANEL_W, height: DATA_H, show: true, borderColor: '#000', borderWidth: 0.9, backgroundColor: 'transparent' });

  const ts = p.obs.map(o => o[0]).concat(p.fit.map(f => f[0]));
  const ss = [];
  p.obs.forEach(o => { ss.push(o[1] - o[2], o[1] + o[2]); });
  p.fit.forEach(f => ss.push(f[1]));
  ss.push(p.band[0], p.band[1], p.mean);
  const tRange = padded(Math.min(...ts), Math.max(...ts));
  const sRange = padded(Math.min(...ss), Math.max(...ss));

  const sDec = decimalsOf(p.st);
  const sLabW = Math.max(...p.st.map(v => labelWidth(v.toFixed(sDec), TICK_FS)));
  xAxes.push(valueAxis(gData, tRange, p.tt, 'Time', 15, false));
  yAxes.push(valueAxis(gData, sRange, p.st, 'S-index', sLabW + 9, true));

  // activity band
  series.push({
    type: 'line', xAxisIndex: gData, yAxisIndex: gData, data: p.fit, silent: true, z: 1,
    showSymbol: false, lineStyle: { opacity: 0 },
    markArea: { silent: true, precision: 6, itemStyle: { color: '#d5d5d5', borderColor: '#e2e2e2', borderWidth: 1.2 }, data: [[{ yAxis: p.band[0] }, { yAxis: p.band[1] }]] }
  });
  // mean level (dash-dot)
  series.push({
    type: 'line', xAxisIndex: gData, yAxisIndex: gData, data: p.fit, silent: true, z: 2,
    showSymbol: false, lineStyle: { opacity: 0 },
    markLine: { silent: true, precision: 6, symbol: ['none', 'none'], label: { show: false },
      lineStyle: { color: '#8c8c8c', width: 1.4, type: [9, 3, 2, 3] },
      data: [{ yAxis: p.mean }] }
  });
  // error bars
  series.push({
    type: 'custom', xAxisIndex: gData, yAxisIndex: gData, data: p.obs, silent: true, z: 3, clip: true,
    encode: { x: 0, y: 1 },
    renderItem: (params, api) => {
      const t = api.value(0), s = api.value(1), e = api.value(2);
      const lo = api.coord([t, s - e]);
      const hi = api.coord([t, s + e]);
      return { type: 'line', shape: { x1: lo[0], y1: lo[1], x2: hi[0], y2: hi[1] }, style: { stroke: '#000', lineWidth: 1.5 } };
    }
  });
  // observations
  series.push({
    type: 'scatter', xAxisIndex: gData, yAxisIndex: gData, silent: true, z: 4,
    data: p.obs.map(o => [o[0], o[1]]), symbolSize: 6.8, itemStyle: { color: '#000' }
  });
  // sinusoidal fit
  series.push({
    type: 'line', xAxisIndex: gData, yAxisIndex: gData, data: p.fit, silent: true, z: 5,
    showSymbol: false, smooth: p.polyline ? false : 0.35,
    lineStyle: { color: '#ff0000', width: 1.5 }
  });

  // ---- periodogram grid ----
  const gPow = grids.length;
  grids.push({ left, top: rowY + POW_TOP, width: PANEL_W, height: POW_H, show: true, borderColor: '#000', borderWidth: 0.9, backgroundColor: 'transparent' });
  const pw = p.power.map(q => q[1]);
  const pRange = padded(Math.min(...pw), Math.max(...pw));
  const pDec = decimalsOf(p.pt);
  const pLabW = Math.max(...p.pt.map(v => labelWidth(v.toFixed(pDec), TICK_FS)));
  xAxes.push(valueAxis(gPow, [0, 2], freqTicks, 'frequency [1/years]', 15, false));
  yAxes.push(valueAxis(gPow, pRange, p.pt, 'Power', pLabW + 9, true));

  series.push({
    type: 'line', xAxisIndex: gPow, yAxisIndex: gPow, data: p.power, silent: true, z: 3,
    showSymbol: false, smooth: 0.4,
    lineStyle: { color: '#008000', width: 1.4 },
    markLine: { silent: true, precision: 6, symbol: ['none', 'none'], label: { show: false },
      lineStyle: { color: '#ff0000', width: 1.4, type: [5, 3] },
      data: [{ xAxis: p.peak }] }
  });

  // ---- texts ----
  titles.push({
    text: 'Data', left: left + PANEL_W / 2, top: rowY + 3, textAlign: 'center', padding: 0,
    textStyle: { fontSize: TITLE_FS, fontWeight: 'normal', fontFamily: SANS, color: '#000' }
  });
  titles.push({
    text: '(' + p.tag + ') ' + p.star, left: capX, top: rowY + 288, textAlign: 'center', padding: 0,
    textStyle: { fontSize: 22, fontWeight: 'normal', fontFamily: 'Liberation Serif', color: '#000' }
  });
});

const chart = echarts.init(document.getElementById('chart'), null, { renderer: 'canvas' });
chart.setOption({
  animation: false,
  backgroundColor: '#fff',
  title: titles,
  grid: grids,
  xAxis: xAxes,
  yAxis: yAxes,
  series
});
</script>
</body>
</html>
